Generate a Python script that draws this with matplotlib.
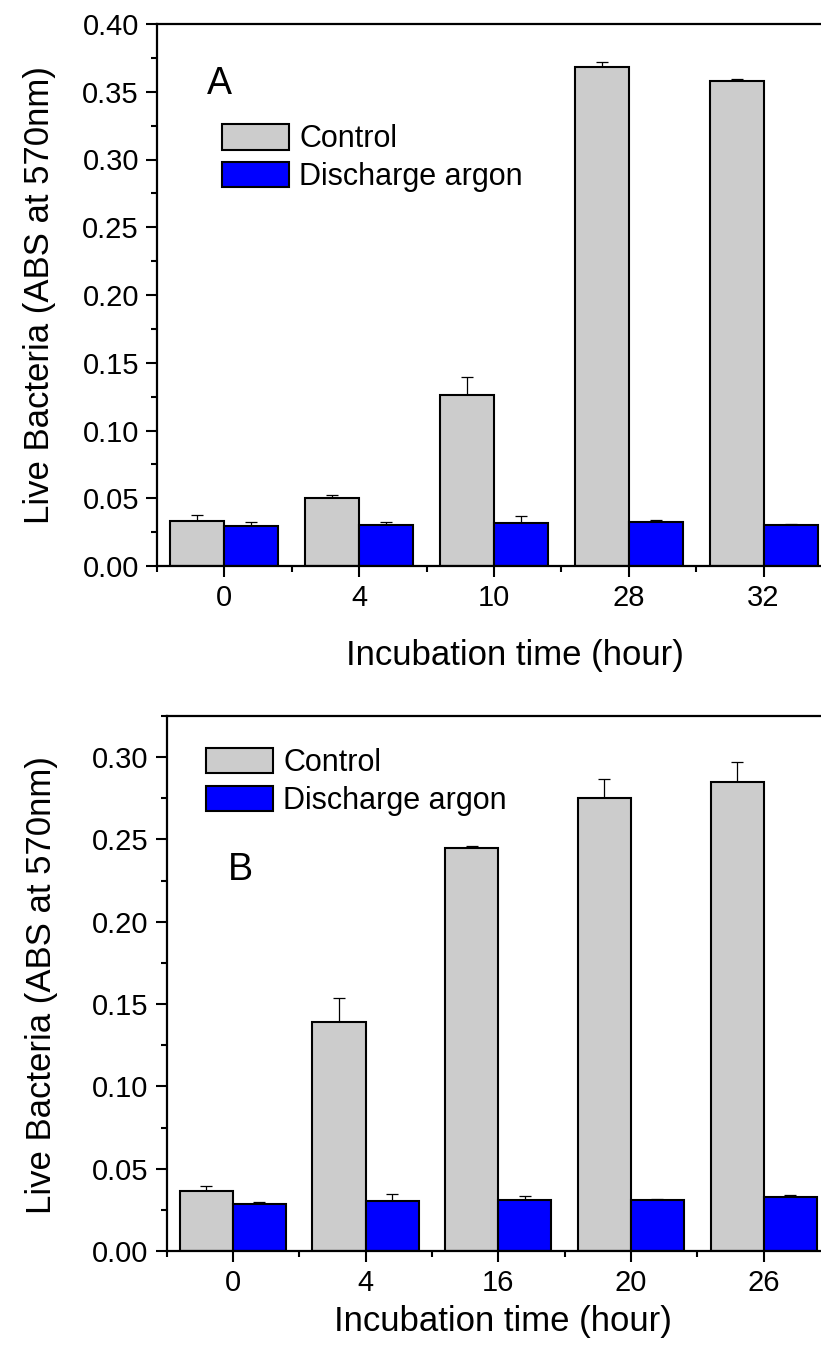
import matplotlib
matplotlib.use("Agg")
import matplotlib.pyplot as plt
import numpy as np
from matplotlib.ticker import MultipleLocator, FixedLocator

plt.rcParams['font.family'] = ['Liberation Sans', 'DejaVu Sans']

# ---- data ----
times_a = ["0", "4", "10", "28", "32"]
control_a = [0.0332, 0.0500, 0.1262, 0.3685, 0.3580]
control_a_err = [0.0042, 0.0026, 0.0133, 0.0032, 0.0016]
argon_a = [0.0297, 0.0303, 0.0320, 0.0325, 0.0303]
argon_a_err = [0.0028, 0.0024, 0.0049, 0.0012, 0.0009]

times_b = ["0", "4", "16", "20", "26"]
control_b = [0.0366, 0.1390, 0.2450, 0.2750, 0.2850]
control_b_err = [0.0031, 0.0146, 0.0012, 0.0120, 0.0120]
argon_b = [0.0285, 0.0305, 0.0312, 0.0312, 0.0328]
argon_b_err = [0.0015, 0.0043, 0.0022, 0.0006, 0.0012]

legend_labels = ["Control", "Discharge argon"]
colors = ["#CCCCCC", "#0000FF"]

W, H = 821, 1355
fig = plt.figure(figsize=(W / 100, H / 100), dpi=100)


def px_axes(left, right, top, bottom):
    return fig.add_axes([left / W, 1 - bottom / H, (right - left) / W, (bottom - top) / H])


def panel(ax, times, ctrl, ctrl_err, arg, arg_err, ymax, yticks, letter, letter_pos,
          leg_pos, xlab_pos, ylab_pos):
    x = np.arange(len(times))
    bw = 0.4
    b1 = ax.bar(x - bw / 2, ctrl, bw, color=colors[0], edgecolor="black", linewidth=1.5,
                label=legend_labels[0], zorder=2)
    b2 = ax.bar(x + bw / 2, arg, bw, color=colors[1], edgecolor="black", linewidth=1.5,
                label=legend_labels[1], zorder=2)
    ax.errorbar(x - bw / 2, ctrl, yerr=[np.zeros(len(ctrl)), ctrl_err], fmt="none",
                ecolor="black", elinewidth=0.9, capsize=4, capthick=0.9, zorder=1)
    ax.errorbar(x + bw / 2, arg, yerr=[np.zeros(len(arg)), arg_err], fmt="none",
                ecolor="black", elinewidth=0.9, capsize=4, capthick=0.9, zorder=1)
    ax.set_xlim(-0.5, len(times) - 0.5)
    ax.set_ylim(0, ymax)
    ax.set_xticks(x)
    ax.set_xticklabels(times)
    ax.xaxis.set_minor_locator(FixedLocator(np.arange(-0.5, len(times), 1.0)))
    ax.set_yticks(yticks)
    ax.set_yticklabels([f"{v:.2f}" for v in yticks])
    ax.yaxis.set_minor_locator(MultipleLocator(0.025))
    ax.tick_params(axis="both", which="major", direction="out", length=8, width=1.5,
                   labelsize=21, pad=5)
    ax.tick_params(axis="both", which="minor", direction="out", length=4.5, width=1.5)
    ax.tick_params(axis="y", which="both", right=False)
    ax.tick_params(axis="x", which="both", top=False)
    for s in ax.spines.values():
        s.set_linewidth(1.6)
    ax.set_xlabel("Incubation time (hour)", fontsize=25)
    ax.set_ylabel("Live Bacteria (ABS at 570nm)", fontsize=25)
    ax.xaxis.set_label_coords(*xlab_pos)
    ax.xaxis.label.set_va("center")
    ax.yaxis.set_label_coords(*ylab_pos)
    ax.yaxis.label.set_va("center")
    ax.text(letter_pos[0], letter_pos[1], letter, transform=ax.transAxes, fontsize=27,
            ha="center", va="center")
    ax.legend(handles=[b1, b2], loc="upper left", bbox_to_anchor=leg_pos, frameon=False,
              fontsize=22, handlelength=2.2, handleheight=0.9, handletextpad=0.33,
              labelspacing=0.25, borderpad=0, borderaxespad=0)


ax1 = px_axes(157, 831, 24, 566)
panel(ax1, times_a, control_a, control_a_err, argon_a, argon_a_err, 0.40,
      np.round(np.arange(0, 0.401, 0.05), 2), "A", (0.092, 0.889),
      (0.0964, 0.815), (0.531, -0.166), (-0.174, 0.5))

ax2 = px_axes(166.5, 830, 716, 1251)
panel(ax2, times_b, control_b, control_b_err, argon_b, argon_b_err, 0.325,
      np.round(np.arange(0, 0.301, 0.05), 2), "B", (0.111, 0.712),
      (0.0595, 0.94), (0.507, -0.131), (-0.188, 0.497))

fig.savefig("out.png", dpi=100)
